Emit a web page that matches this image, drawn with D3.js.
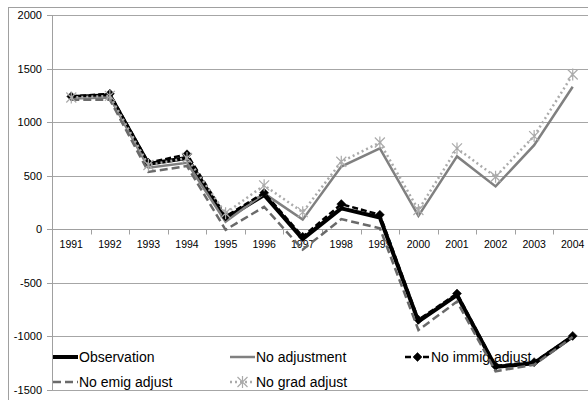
<!DOCTYPE html>
<html>
<head>
<meta charset="utf-8">
<script src="https://cdn.jsdelivr.net/npm/d3@7"></script>
<style>
  html, body { margin: 0; padding: 0; background: #fff; }
  svg { display: block; }
  text { font-family: "Liberation Sans", Arial, sans-serif; }
</style>
</head>
<body>
<svg id="chart" width="588" height="400"></svg>
<script>
const years = ["1991","1992","1993","1994","1995","1996","1997","1998","1999","2000","2001","2002","2003","2004"];
const yTicks = [2000, 1500, 1000, 500, 0, -500, -1000, -1500];

const observation  = [1235, 1250, 610, 665, 100, 320, -90, 195, 110, -860, -615, -1285, -1250, -1000];
const noAdjustment = [1220, 1230, 575, 620, 70, 335, 90, 585, 755, 125, 680, 400, 785, 1330];
const noImmig      = [1240, 1265, 620, 700, 120, 340, -70, 235, 135, -845, -600, -1275, -1240, -995];
const noEmig       = [1210, 1210, 535, 590, -5, 210, -190, 95, 10, -940, -675, -1325, -1265, -1005];
const noGrad       = [1230, 1245, 600, 665, 150, 410, 160, 630, 810, 180, 755, 490, 870, 1445];

const seriesNames = ["Observation", "No adjustment", "No immig adjust", "No emig adjust", "No grad adjust"];

const series = [
  {name: seriesNames[0], values: observation,  color: "#000000", width: 4,   dash: null,  marker: null},
  {name: seriesNames[1], values: noAdjustment, color: "#808080", width: 2.5, dash: null,  marker: null},
  {name: seriesNames[2], values: noImmig,      color: "#000000", width: 2.5, dash: "6,3", marker: "diamond"},
  {name: seriesNames[3], values: noEmig,       color: "#6a6a6a", width: 2.5, dash: "8,4", marker: null},
  {name: seriesNames[4], values: noGrad,       color: "#ababab", width: 2.5, dash: "2,3", marker: "star"}
];

const svg = d3.select("#chart");

// outer chart frame
svg.append("rect").attr("x", 8.5).attr("y", 7.5).attr("width", 620).attr("height", 420)
  .attr("fill", "none").attr("stroke", "#a0a0a0").attr("stroke-width", 1);

const x = d3.scaleBand().domain(years).range([52, 592]);
const y = d3.scaleLinear().domain([-1500, 2000]).range([390, 15]);

// gridlines
svg.append("g").selectAll("line").data(yTicks).join("line")
  .attr("x1", 52).attr("x2", 600)
  .attr("y1", d => Math.round(y(d)) + 0.5).attr("y2", d => Math.round(y(d)) + 0.5)
  .attr("stroke", "#a6a6a6").attr("stroke-width", 1);

// y axis line
svg.append("line").attr("x1", 52.5).attr("x2", 52.5).attr("y1", y(2000)).attr("y2", y(-1500))
  .attr("stroke", "#a0a0a0");
// y tick marks
svg.append("g").selectAll("line").data(yTicks).join("line")
  .attr("x1", 47).attr("x2", 52)
  .attr("y1", d => Math.round(y(d)) + 0.5).attr("y2", d => Math.round(y(d)) + 0.5)
  .attr("stroke", "#a0a0a0");
// y labels
svg.append("g").selectAll("text").data(yTicks).join("text")
  .attr("x", 42).attr("y", d => y(d) + 4)
  .attr("text-anchor", "end").attr("font-size", 11).attr("fill", "#000")
  .text(d => d);

// x axis at zero with ticks at band edges
const y0 = Math.round(y(0)) + 0.5;
svg.append("line").attr("x1", 52).attr("x2", 600).attr("y1", y0).attr("y2", y0).attr("stroke", "#a0a0a0");
svg.append("g").selectAll("line").data(d3.range(years.length + 1)).join("line")
  .attr("x1", i => Math.round(52 + i * x.bandwidth()) + 0.5)
  .attr("x2", i => Math.round(52 + i * x.bandwidth()) + 0.5)
  .attr("y1", y0).attr("y2", y0 + 5).attr("stroke", "#a0a0a0");
svg.append("g").selectAll("text").data(years).join("text")
  .attr("x", d => x(d) + x.bandwidth() / 2).attr("y", y0 + 18)
  .attr("text-anchor", "middle").attr("font-size", 10.5).attr("fill", "#000")
  .text(d => d);

// legend
const legendItems = [
  {s: series[0], lx: 53,  ly: 357},
  {s: series[1], lx: 230, ly: 357},
  {s: series[2], lx: 405, ly: 357},
  {s: series[3], lx: 53,  ly: 382},
  {s: series[4], lx: 230, ly: 382}
];

function drawMarker(g, type, cx, cy, color) {
  if (type === "diamond") {
    g.append("path")
      .attr("d", `M${cx},${cy-4.5}L${cx+4.5},${cy}L${cx},${cy+4.5}L${cx-4.5},${cy}Z`)
      .attr("fill", color).attr("stroke", color).attr("stroke-width", 0.5);
  } else if (type === "star") {
    const r = 5;
    g.append("path")
      .attr("d", `M${cx-r},${cy-r}L${cx+r},${cy+r}M${cx-r},${cy+r}L${cx+r},${cy-r}M${cx},${cy-r-1}L${cx},${cy+r+1}`)
      .attr("fill", "none").attr("stroke", color).attr("stroke-width", 1.2);
  }
}

const lg = svg.append("g");
legendItems.forEach(it => {
  const s = it.s;
  lg.append("line").attr("x1", it.lx).attr("x2", it.lx + 25).attr("y1", it.ly).attr("y2", it.ly)
    .attr("stroke", s.color).attr("stroke-width", s.width)
    .attr("stroke-dasharray", s.dash);
  if (s.marker) drawMarker(lg, s.marker, it.lx + 12.5, it.ly, s.color);
  lg.append("text").attr("x", it.lx + 26).attr("y", it.ly + 5)
    .attr("font-size", 14).attr("fill", "#000").text(s.name);
});

// series lines
const line = d3.line().x((d, i) => x(years[i]) + x.bandwidth() / 2).y(d => y(d));
series.forEach(s => {
  const g = svg.append("g");
  g.append("path").datum(s.values).attr("d", line)
    .attr("fill", "none").attr("stroke", s.color).attr("stroke-width", s.width)
    .attr("stroke-dasharray", s.dash).attr("stroke-linejoin", "miter");
  if (s.marker) {
    s.values.forEach((v, i) => drawMarker(g, s.marker, x(years[i]) + x.bandwidth() / 2, y(v), s.color));
  }
});
</script>
</body>
</html>
